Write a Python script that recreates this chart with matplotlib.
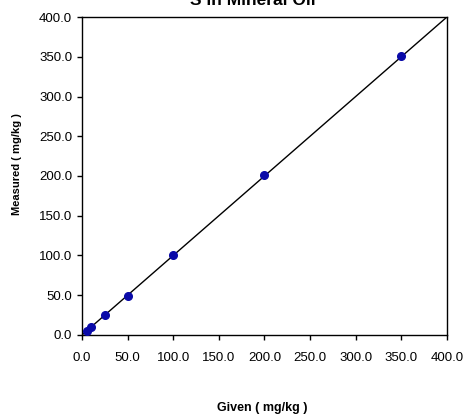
import matplotlib
matplotlib.use("Agg")
import matplotlib.pyplot as plt

plt.rcParams['font.family'] = ['Liberation Sans', 'DejaVu Sans']

given = [5, 10, 25, 50, 100, 200, 350]
measured = [5, 10, 25, 49, 101, 201, 351]
line_x = [0, 400]
line_y = [0, 400]
ticks = [0, 50, 100, 150, 200, 250, 300, 350, 400]
tick_labels = [f"{t:.1f}" for t in ticks]

fig = plt.figure(figsize=(4.64, 4.17), dpi=100)
ax = fig.add_axes([0.177, 0.197, 0.786, 0.762])

ax.plot(line_x, line_y, color='black', linewidth=1.0, zorder=2)
ax.plot(given, measured, 'o', color='#0a0aa8', markersize=5.5, zorder=3)

ax.set_xlim(0, 400)
ax.set_ylim(0, 400)
ax.set_xticks(ticks)
ax.set_xticklabels(tick_labels)
ax.set_yticks(ticks)
ax.set_yticklabels(tick_labels)
ax.tick_params(direction='out', length=3.6, width=1, labelsize=9.5)
ax.tick_params(axis='x', pad=9)
ax.tick_params(axis='y', pad=3.5)
for s in ax.spines.values():
    s.set_linewidth(1.0)
    s.set_color('black')

fig.text(0.545, 0.987, "S in Mineral Oil", ha='center', va='baseline',
         fontsize=12.5, fontweight='bold')
fig.text(0.565, 0.015, "Given ( mg/kg )", ha='center', va='baseline',
         fontsize=9, fontweight='bold')
fig.text(0.037, 0.607, "Measured ( mg/kg )", ha='center', va='center',
         rotation=90, fontsize=8, fontweight='bold')

fig.savefig("out.png", dpi=100)
